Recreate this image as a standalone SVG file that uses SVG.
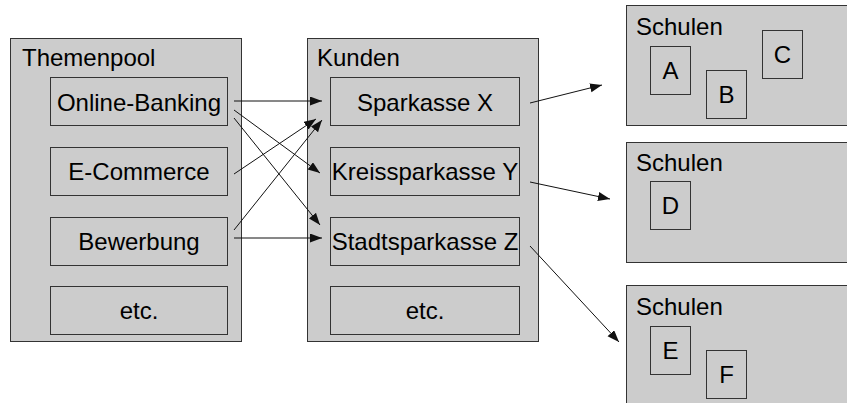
<svg xmlns="http://www.w3.org/2000/svg" width="847" height="403" viewBox="0 0 847 403">
  <style>
    .box { fill: #cccccc; stroke: #333333; stroke-width: 1; }
    .lbl { font-family: "Liberation Sans", Arial, sans-serif; font-size: 24px; fill: #000000; }
    .mid { text-anchor: middle; }
    .conn { stroke: #111111; stroke-width: 1; fill: none; marker-end: url(#arrow); }
  </style>
  <defs>
    <marker id="arrow" markerUnits="userSpaceOnUse" markerWidth="13" markerHeight="10" refX="12" refY="4.5" orient="auto">
      <path d="M0,0 L12,4.5 L0,9 z" fill="#111111"/>
    </marker>
  </defs>

  <rect width="847" height="403" fill="#ffffff"/>

  <!-- Topic pool -->
  <g id="themenpool">
    <rect class="box" x="10.5" y="38.5" width="231" height="303"/>
    <text class="lbl" x="22" y="66">Themenpool</text>
  </g>
  <g id="online-banking">
    <rect class="box" x="50.5" y="77.5" width="177" height="48"/>
    <text class="lbl mid" x="139" y="111">Online-Banking</text>
  </g>
  <g id="e-commerce">
    <rect class="box" x="50.5" y="147.5" width="177" height="48"/>
    <text class="lbl mid" x="139" y="180">E-Commerce</text>
  </g>
  <g id="bewerbung">
    <rect class="box" x="50.5" y="217.5" width="177" height="48"/>
    <text class="lbl mid" x="139" y="250">Bewerbung</text>
  </g>
  <g id="themen-etc">
    <rect class="box" x="50.5" y="286.5" width="177" height="48"/>
    <text class="lbl mid" x="139" y="319">etc.</text>
  </g>

  <!-- Customers -->
  <g id="kunden">
    <rect class="box" x="307.5" y="38.5" width="231" height="303"/>
    <text class="lbl" x="317" y="66">Kunden</text>
  </g>
  <g id="sparkasse-x">
    <rect class="box" x="330.5" y="77.5" width="189" height="48"/>
    <text class="lbl mid" x="425" y="111">Sparkasse X</text>
  </g>
  <g id="kreissparkasse-y">
    <rect class="box" x="330.5" y="147.5" width="189" height="48"/>
    <text class="lbl mid" x="425" y="180">Kreissparkasse Y</text>
  </g>
  <g id="stadtsparkasse-z">
    <rect class="box" x="330.5" y="217.5" width="189" height="48"/>
    <text class="lbl mid" x="425" y="250">Stadtsparkasse Z</text>
  </g>
  <g id="kunden-etc">
    <rect class="box" x="330.5" y="286.5" width="189" height="48"/>
    <text class="lbl mid" x="425" y="319">etc.</text>
  </g>

  <!-- Schools -->
  <g id="schulen-1">
    <rect class="box" x="626.5" y="5.5" width="230" height="120"/>
    <text class="lbl" x="636" y="35">Schulen</text>
  </g>
  <g id="schule-a">
    <rect class="box" x="650.5" y="46.5" width="40" height="48"/>
    <text class="lbl mid" x="670.5" y="79">A</text>
  </g>
  <g id="schule-b">
    <rect class="box" x="706.5" y="70.5" width="40" height="48"/>
    <text class="lbl mid" x="726.5" y="103">B</text>
  </g>
  <g id="schule-c">
    <rect class="box" x="762.5" y="30.5" width="40" height="48"/>
    <text class="lbl mid" x="782.5" y="63">C</text>
  </g>

  <g id="schulen-2">
    <rect class="box" x="626.5" y="142.5" width="230" height="120"/>
    <text class="lbl" x="636" y="171">Schulen</text>
  </g>
  <g id="schule-d">
    <rect class="box" x="650.5" y="181.5" width="40" height="48"/>
    <text class="lbl mid" x="670.5" y="214">D</text>
  </g>

  <g id="schulen-3">
    <rect class="box" x="626.5" y="285.5" width="230" height="130"/>
    <text class="lbl" x="636" y="315">Schulen</text>
  </g>
  <g id="schule-e">
    <rect class="box" x="650.5" y="326.5" width="40" height="48"/>
    <text class="lbl mid" x="670.5" y="359">E</text>
  </g>
  <g id="schule-f">
    <rect class="box" x="706.5" y="350.5" width="40" height="48"/>
    <text class="lbl mid" x="726.5" y="383">F</text>
  </g>

  <!-- Connectors -->
  <g id="connectors">
    <line class="conn" x1="234" y1="101" x2="322" y2="101"/>
    <line class="conn" x1="234" y1="110" x2="320" y2="173"/>
    <line class="conn" x1="234" y1="118" x2="320" y2="225"/>
    <line class="conn" x1="234" y1="174" x2="316" y2="119"/>
    <line class="conn" x1="234" y1="230" x2="322" y2="120"/>
    <line class="conn" x1="234" y1="238" x2="322" y2="238"/>
    <line class="conn" x1="530" y1="103" x2="602" y2="85"/>
    <line class="conn" x1="530" y1="182" x2="610" y2="199"/>
    <line class="conn" x1="530" y1="246" x2="619" y2="342"/>
  </g>
</svg>
